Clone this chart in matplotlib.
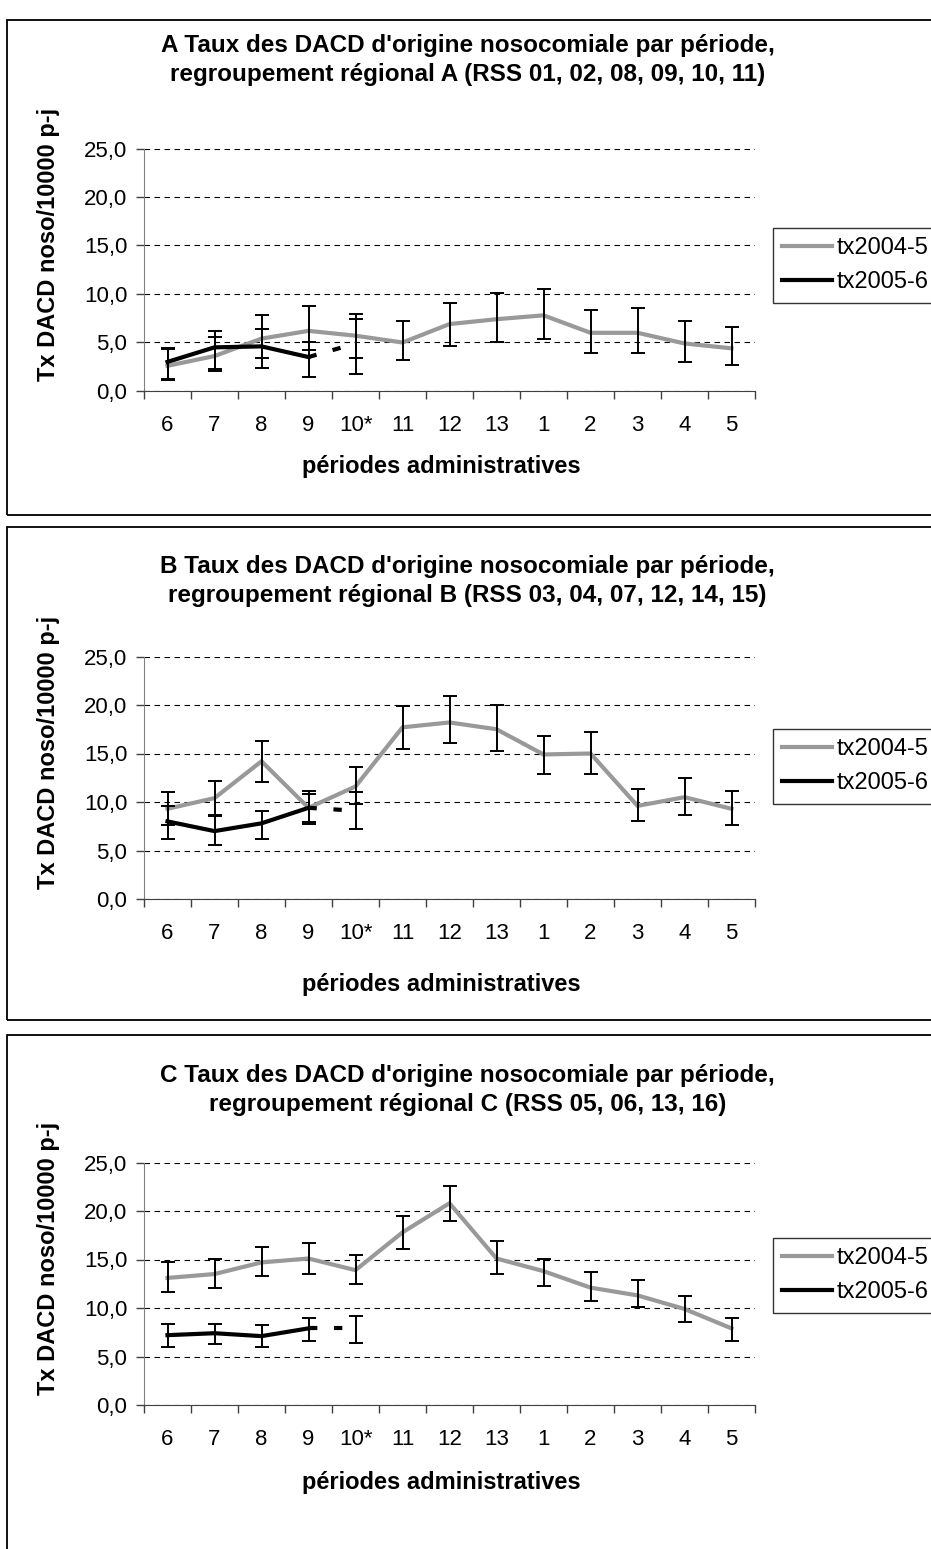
import numpy as np
import matplotlib.pyplot as plt
from matplotlib.patches import Rectangle
from matplotlib.lines import Line2D

plt.rcParams['font.family'] = ['Liberation Sans', 'DejaVu Sans']

# DATA

periods = ["6", "7", "8", "9", "10*", "11", "12", "13", "1", "2", "3", "4", "5"]

# A
a_title = ("A Taux des DACD d'origine nosocomiale par période,\n"
           "regroupement régional A (RSS 01, 02, 08, 09, 10, 11)")
a_2004 = [2.6, 3.6, 5.4, 6.2, 5.7, 5.0, 6.9, 7.4, 7.8, 6.0, 6.0, 4.9, 4.4]
a_2004_lo = [1.1, 2.1, 3.4, 4.2, 3.4, 3.2, 4.6, 5.0, 5.4, 3.9, 3.9, 3.0, 2.7]
a_2004_hi = [4.3, 5.6, 7.8, 8.8, 7.9, 7.2, 9.1, 10.1, 10.5, 8.3, 8.6, 7.2, 6.6]
a_2005 = [3.0, 4.5, 4.6, 3.5, 4.9]
a_2005_lo = [1.2, 2.3, 2.4, 1.4, 1.8]
a_2005_hi = [4.4, 6.2, 6.4, 5.0, 7.4]

# B
b_title = ("B Taux des DACD d'origine nosocomiale par période,\n"
           "regroupement régional B (RSS 03, 04, 07, 12, 14, 15)")
b_2004 = [9.3, 10.4, 14.2, 9.4, 11.6, 17.7, 18.2, 17.5, 14.9, 15.0, 9.6, 10.5, 9.3]
b_2004_lo = [7.6, 8.7, 12.1, 7.7, 9.8, 15.5, 16.1, 15.3, 12.9, 12.9, 8.0, 8.7, 7.6]
b_2004_hi = [11.0, 12.2, 16.3, 11.1, 13.6, 19.9, 20.9, 20.0, 16.8, 17.2, 11.3, 12.5, 11.1]
b_2005 = [8.0, 7.0, 7.8, 9.4, 9.1]
b_2005_lo = [6.2, 5.6, 6.2, 7.9, 7.2]
b_2005_hi = [9.6, 8.6, 9.1, 10.8, 11.0]

# C
c_title = ("C Taux des DACD d'origine nosocomiale par période,\n"
           "regroupement régional C (RSS 05, 06, 13, 16)")
c_2004 = [13.1, 13.5, 14.7, 15.1, 13.9, 17.8, 20.8, 15.1, 13.8, 12.1, 11.3, 9.9, 7.9]
c_2004_lo = [11.7, 12.1, 13.3, 13.5, 12.5, 16.1, 19.0, 13.5, 12.3, 10.7, 10.1, 8.6, 6.6]
c_2004_hi = [14.7, 15.1, 16.3, 16.7, 15.5, 19.5, 22.6, 16.9, 15.1, 13.7, 12.9, 11.2, 9.0]
c_2005 = [7.2, 7.4, 7.1, 7.9, 7.9]
c_2005_lo = [6.0, 6.3, 6.0, 6.6, 6.4]
c_2005_hi = [8.4, 8.4, 8.2, 9.0, 9.2]

legend_labels = ["tx2004-5", "tx2005-6"]
y_label = "Tx DACD noso/10000 p-j"
x_label = "périodes administratives"

# FIGURE

W, H = 931, 1549
fig = plt.figure(figsize=(W / 100, H / 100), dpi=100)


def fx(px):
    return px / W


def fy(py):
    return 1 - py / H


AX_LEFT, AX_RIGHT = 144, 755
AX_HEIGHT = 242.5
GRAY = "#999999"


def draw_panel(zero_y, title, v4, lo4, hi4, v5, lo5, hi5,
               title_y, xlab_y, leg_y, box_top, box_bottom):
    ax = fig.add_axes([fx(AX_LEFT), fy(zero_y), (AX_RIGHT - AX_LEFT) / W, AX_HEIGHT / H])
    x = np.arange(len(periods))
    v4, lo4, hi4 = np.array(v4), np.array(lo4), np.array(hi4)
    v5, lo5, hi5 = np.array(v5), np.array(lo5), np.array(hi5)

    ax.plot(x, v4, color=GRAY, lw=3, zorder=2, solid_joinstyle="miter")
    ax.errorbar(x, v4, yerr=[v4 - lo4, hi4 - v4], fmt="none", ecolor="black",
                elinewidth=1.4, capsize=5, capthick=1.4, zorder=3)

    # last period is partial -> dashed
    n = len(v5)
    ax.plot(x[:n - 1], v5[:n - 1], color="black", lw=3, zorder=4)
    ax.plot(x[n - 2:n], v5[n - 2:n], color="black", lw=3, zorder=4,
            linestyle=(0, (2, 4)))
    ax.errorbar(x[:n], v5, yerr=[v5 - lo5, hi5 - v5], fmt="none", ecolor="black",
                elinewidth=1.4, capsize=5, capthick=1.4, zorder=3)

    ax.set_xlim(-0.5, len(periods) - 0.5)
    ax.set_ylim(0, 25)
    yt = np.arange(0, 26, 5)
    ax.set_yticks(yt)
    ax.set_yticklabels([f"{v:.1f}".replace(".", ",") for v in yt], fontsize=16)
    ax.yaxis.grid(True, linestyle=(0, (5, 4)), color="black", lw=0.8)
    ax.set_axisbelow(True)

    ax.set_xticks(x)
    ax.set_xticklabels(periods, fontsize=16)
    ax.set_xticks(np.arange(-0.5, len(periods), 1), minor=True)
    ax.tick_params(axis="x", which="major", length=0, pad=17)
    ax.tick_params(axis="x", which="minor", length=6, width=1, color="#404040", direction="out")
    ax.tick_params(axis="y", length=6, width=1, color="#404040", pad=6)

    for s in ["top", "right"]:
        ax.spines[s].set_visible(False)
    ax.spines["left"].set_color("#808080")
    ax.spines["bottom"].set_color("#404040")

    cx = (AX_LEFT + AX_RIGHT) / 2
    fig.text(fx(cx + 18), fy(title_y), title, ha="center", va="center",
             fontsize=17.5, fontweight="bold", linespacing=1.3)
    fig.text(fx(49), fy(zero_y - 147), y_label, rotation=90, ha="center",
             va="center", fontsize=17, fontweight="bold")
    fig.text(fx(cx - 8), fy(xlab_y), x_label, ha="center", va="center",
             fontsize=17, fontweight="bold")

    handles = [Line2D([], [], color=GRAY, lw=3), Line2D([], [], color="black", lw=3)]
    leg = fig.legend(handles, legend_labels, loc="upper left",
                     bbox_to_anchor=(fx(773), fy(leg_y)), fontsize=17,
                     frameon=True, fancybox=False, edgecolor="black",
                     handlelength=2.1, handletextpad=0.2, labelspacing=0.5,
                     borderpad=0.4, borderaxespad=0)
    leg.get_frame().set_linewidth(1.0)

    fig.patches.append(Rectangle((fx(7), fy(box_bottom)), fx(1000) - fx(7),
                                 (box_bottom - box_top) / H, transform=fig.transFigure,
                                 fill=False, edgecolor="black", lw=1.3))


draw_panel(391, a_title, a_2004, a_2004_lo, a_2004_hi, a_2005, a_2005_lo, a_2005_hi,
           60, 467, 228, 20, 515)
draw_panel(899, b_title, b_2004, b_2004_lo, b_2004_hi, b_2005, b_2005_lo, b_2005_hi,
           581, 985, 729, 527, 1020)
draw_panel(1405, c_title, c_2004, c_2004_lo, c_2004_hi, c_2005, c_2005_lo, c_2005_hi,
           1090, 1483, 1238, 1035, 1600)

fig.savefig("out.png", dpi=100)
